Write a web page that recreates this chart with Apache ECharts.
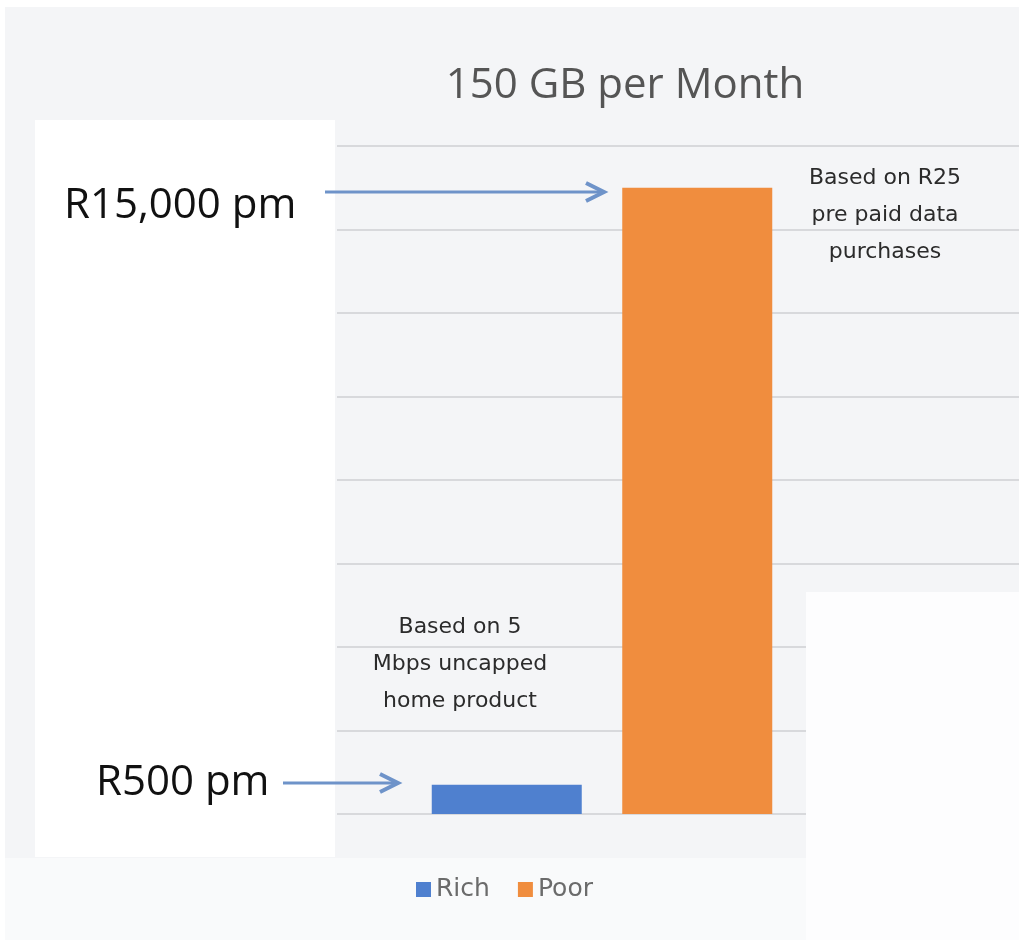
<!DOCTYPE html>
<html>
<head>
<meta charset="utf-8">
<script src="https://cdn.jsdelivr.net/npm/echarts@6/dist/echarts.min.js"></script>
<style>html,body{margin:0;padding:0;background:#fff}#c{width:1019px;height:940px}</style>
</head>
<body>
<div id="c"></div>
<script>
var categories = ['150 GB per Month'];
var seriesNames = ['Rich', 'Poor'];
var richValues = [700];
var poorValues = [15000];
var axisMin = 0, axisMax = 16000, axisInterval = 2000;
var titleText = '150 GB per Month';
var richNote = ['Based on 5', 'Mbps uncapped', 'home product'];
var poorNote = ['Based on R25', 'pre paid data', 'purchases'];
var richLabel = 'R500 pm';
var poorLabel = 'R15,000 pm';

var chart = echarts.init(document.getElementById('c'), null, {renderer: 'canvas'});
var gridLine = {show: true, lineStyle: {color: '#d8d9dc', width: 2}};
var font = '"Open Sans", "Noto Sans", sans-serif';
var noteFont = '"DejaVu Sans", sans-serif';
var arrowColor = '#6e93c9';

chart.setOption({
  backgroundColor: '#f4f5f7',
  animation: false,
  title: {
    text: titleText, left: 620, top: 60, textAlign: 'center',
    textStyle: {fontFamily: font, fontSize: 42, fontWeight: 'normal', color: '#555555'}
  },
  legend: {
    data: seriesNames, left: 411, top: 872, itemWidth: 15, itemHeight: 15, itemGap: 28,
    icon: 'rect', textStyle: {fontFamily: noteFont, fontSize: 25, color: '#6b6b6b'}
  },
  grid: [
    {left: 337, right: 152, top: 146, bottom: 126},
    {left: 867, right: 0, top: 146, bottom: 126}
  ],
  xAxis: [
    {type: 'category', data: categories, gridIndex: 0, axisLine: {show: false}, axisTick: {show: false}, axisLabel: {show: false}},
    {type: 'category', data: categories, gridIndex: 1, show: false}
  ],
  yAxis: [
    {type: 'value', gridIndex: 0, min: axisMin, max: axisMax, interval: axisInterval, axisLabel: {show: false}, axisLine: {show: false}, axisTick: {show: false}, splitLine: gridLine},
    {type: 'value', gridIndex: 1, min: axisMin, max: axisMax, interval: axisInterval, axisLabel: {show: false}, axisLine: {show: false}, axisTick: {show: false}, splitLine: gridLine}
  ],
  series: [
    {name: seriesNames[0], type: 'bar', data: richValues, barWidth: 150, barGap: '27%', itemStyle: {color: '#4f80cf'}, z: 5},
    {name: seriesNames[1], type: 'bar', data: poorValues, barWidth: 150, barGap: '27%', itemStyle: {color: '#f08d3e'}, z: 5}
  ],
  graphic: [
    {type: 'rect', z: 1, shape: {x: 35, y: 120, width: 300, height: 737}, style: {fill: '#ffffff'}},
    {type: 'rect', z: 1, shape: {x: 806, y: 592, width: 213, height: 348}, style: {fill: '#fdfdfe'}},
    {type: 'rect', z: 1, shape: {x: 0, y: 858, width: 806, height: 82}, style: {fill: '#f9fafb'}},
    {type: 'rect', z: 1, shape: {x: 0, y: 0, width: 1019, height: 7}, style: {fill: '#ffffff'}},
    {type: 'rect', z: 1, shape: {x: 0, y: 0, width: 5, height: 940}, style: {fill: '#ffffff'}},
    {type: 'text', z: 20, left: 64, top: 185, style: {text: poorLabel, fontFamily: font, fontSize: 42, fill: '#111'}},
    {type: 'text', z: 20, left: 96, top: 762, style: {text: richLabel, fontFamily: font, fontSize: 42, fill: '#111'}},
    {type: 'line', z: 20, shape: {x1: 325, y1: 192, x2: 602, y2: 192}, style: {stroke: arrowColor, lineWidth: 3}},
    {type: 'polyline', z: 20, shape: {points: [[586, 183], [604, 192], [586, 201]]}, style: {stroke: arrowColor, lineWidth: 4, fill: null}},
    {type: 'line', z: 20, shape: {x1: 283, y1: 783, x2: 396, y2: 783}, style: {stroke: arrowColor, lineWidth: 3}},
    {type: 'polyline', z: 20, shape: {points: [[380, 774], [398, 783], [380, 792]]}, style: {stroke: arrowColor, lineWidth: 4, fill: null}},
    {type: 'text', z: 20, x: 885, y: 160, style: {text: poorNote.join('\n'), textAlign: 'center', fontFamily: noteFont, fontSize: 22, lineHeight: 37, fill: '#2b2b2b'}},
    {type: 'text', z: 20, x: 460, y: 609, style: {text: richNote.join('\n'), textAlign: 'center', fontFamily: noteFont, fontSize: 22, lineHeight: 37, fill: '#2b2b2b'}}
  ]
});
</script>
</body>
</html>
